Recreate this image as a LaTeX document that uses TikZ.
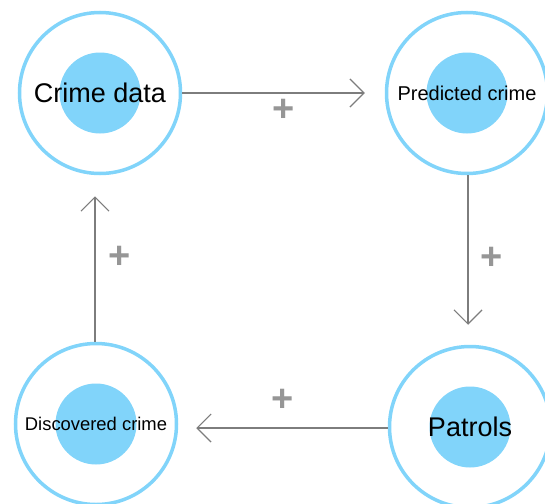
\documentclass[tikz,border=0pt]{standalone}
\usepackage{fontspec}
\setmainfont{Liberation Sans}
\usetikzlibrary{arrows.meta}
\definecolor{ringblue}{RGB}{129,212,250}
\definecolor{arrowgray}{RGB}{125,125,125}
\definecolor{plusgray}{RGB}{150,150,150}
\begin{document}
\begin{tikzpicture}[x=1pt,y=-1pt,
  stage/.style={circle, draw=ringblue, line width=3.5pt, minimum size=161pt, inner sep=0pt, fill=white,
    path picture={\fill[ringblue] (path picture bounding box.center) circle (40.5pt);}},
  flow/.style={draw=arrowgray, line width=1.2pt, -{Straight Barb[length=14pt,width=28pt,line width=1.2pt]}},
  sign/.style={text=plusgray, font=\bfseries\fontsize{38}{38}\selectfont, inner sep=0pt}]
\useasboundingbox (0,0) rectangle (545,503);
\node[stage, font=\fontsize{27}{27}\selectfont] (cd) at (100,93) {Crime data};
\node[stage, font=\fontsize{20}{20}\selectfont] (pc) at (467,93) {Predicted crime};
\node[stage, font=\fontsize{27}{27}\selectfont] (pa) at (470,427) {Patrols};
\node[stage, font=\fontsize{18.4}{18.4}\selectfont] (dc) at (96,424) {Discovered crime};
\draw[flow, shorten >=20pt] (cd.east) -- (cd.east -| pc.west);
\draw[flow, shorten >=20pt] ([xshift=1pt]pc.south) -- ([xshift=1pt]pc.south |- pa.north);
\draw[flow, shorten >=18pt] ([yshift=-1pt]pa.west) -- ([yshift=-1pt]pa.west -| dc.east);
\draw[flow, shorten >=21pt] ([xshift=-1pt]dc.north) -- ([xshift=-1pt]dc.north |- cd.south);
\node[sign] (p1) at (284,110) {+};
\node[sign] (p2) at (492,258) {+};
\node[sign] (p3) at (283,400) {+};
\node[sign] (p4) at (120,257) {+};
\end{tikzpicture}
\end{document}
